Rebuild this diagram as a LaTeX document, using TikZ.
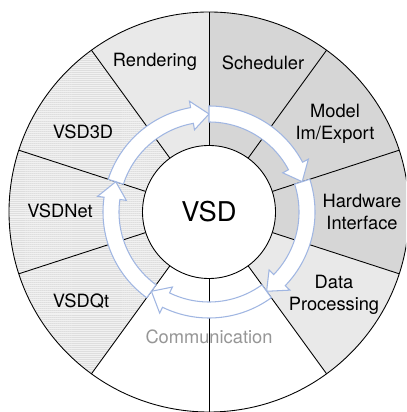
\documentclass[tikz,border=0pt]{standalone}
\usepackage{fontspec}
\setmainfont{TeX Gyre Heros}
\usetikzlibrary{patterns.meta}
\definecolor{segdark}{RGB}{214,214,214}
\definecolor{seglight}{RGB}{233,233,233}
\definecolor{hatchbg}{RGB}{241,241,241}
\definecolor{hatchln}{RGB}{222,222,222}
\definecolor{arrblue}{RGB}{160,182,226}
\definecolor{commgray}{RGB}{150,150,150}
\newcommand{\rin}{1.33}
\newcommand{\rout}{4}
% one ring piece: style, start angle, end angle
\newcommand{\ringseg}[3]{\path[#1] (0,0) -- (#2:\rout) arc[start angle=#2, end angle=#3, radius=\rout] -- cycle;}
% one cycle arrow, tail at angle #1, running clockwise by 72 degrees
\newcommand{\cycarrow}[1]{\draw[cyc] (#1:2.12) arc[start angle=#1, end angle={#1-62}, radius=2.12]
  -- ({#1-62}:2.25) -- ({#1-72}:1.96) -- ({#1-62}:1.67) -- ({#1-62}:1.80)
  arc[start angle={#1-62}, end angle=#1, radius=1.80] -- cycle;}
\tikzset{
  darkseg/.style={fill=segdark},
  lightseg/.style={fill=seglight},
  hatchseg/.style={fill=hatchbg, postaction={pattern={Lines[angle=0, distance=1.15pt, line width=0.55pt]}, pattern color=hatchln}},
  plainseg/.style={fill=white},
  sep/.style={draw=black, line width=0.5pt},
  lbl/.style={font=\fontsize{10.4}{12.6}\selectfont, align=center, inner sep=0pt},
  cyc/.style={draw=arrblue, fill=white, line width=0.6pt, line join=miter},
  hub/.style={circle, draw=black, fill=white, line width=0.5pt, minimum size=2.66cm,
              inner sep=0pt, font=\fontsize{15.5}{18}\selectfont},
}

\begin{document}
\begin{tikzpicture}
  \useasboundingbox (-4.18,-4.0) rectangle (3.94,4.24);
  \clip (-4.18,-4.0) rectangle (3.94,4.24);
  % ring pieces
  \ringseg{darkseg}{54}{90}
  \ringseg{darkseg}{18}{54}
  \ringseg{darkseg}{-18}{18}
  \ringseg{lightseg}{-54}{-18}
  \ringseg{plainseg}{-90}{-54}
  \ringseg{plainseg}{-126}{-90}
  \ringseg{hatchseg}{-162}{-126}
  \ringseg{hatchseg}{162}{198}
  \ringseg{hatchseg}{126}{162}
  \ringseg{lightseg}{90}{126}
  \node[lbl, text=commgray] (comm) at (0,-2.5) {Communication};
  % borders
  \foreach \a in {18,54,...,342}
    \draw[sep] (\a:\rin) -- (\a:\rout);
  \draw[sep] (0,0) circle[radius=\rout];
  % cycle arrows
  \cycarrow{162}
  \cycarrow{90}
  \cycarrow{18}
  \cycarrow{-54}
  \cycarrow{-126}
  \node[hub] (vsd) at (0,0) {VSD};
  % labels
  \node[lbl] (rend) at (-1.08,3.0) {Rendering};
  \node[lbl] (sched) at (1.08,2.98) {Scheduler};
  \node[lbl] (model) at (2.52,1.76) {Model\\Im/Export};
  \node[lbl] (hw) at (3.06,0) {Hardware\\Interface};
  \node[lbl] (data) at (2.5,-1.66) {Data\\Processing};
  \node[lbl] (v3d) at (-2.52,1.6) {VSD3D};
  \node[lbl] (vnet) at (-2.98,0.02) {VSDNet};
  \node[lbl] (vqt) at (-2.56,-1.78) {VSDQt};
\end{tikzpicture}
\end{document}
